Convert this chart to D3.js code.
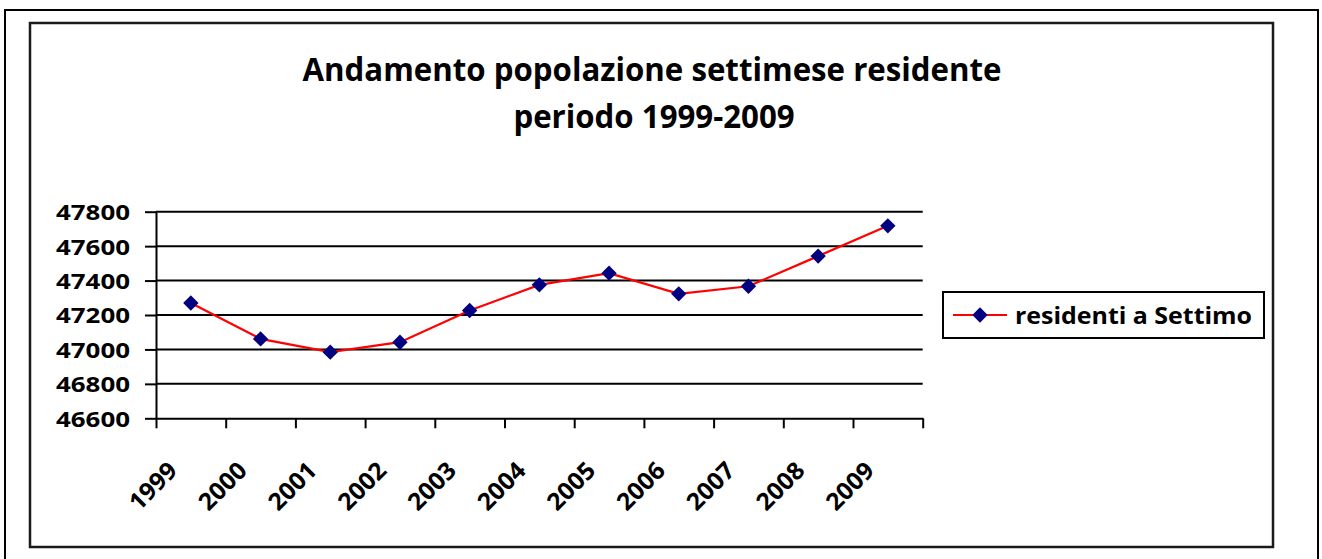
<!DOCTYPE html>
<html>
<head>
<meta charset="utf-8">
<script src="https://cdn.jsdelivr.net/npm/d3@7"></script>
<style>
  html, body { margin: 0; padding: 0; background: #fff; }
  svg { display: block; }
  text { font-family: 'Open Sans', 'Noto Sans', sans-serif; font-weight: bold; fill: #000; }
</style>
</head>
<body>
<svg id="chart" width="1322" height="559"></svg>
<script>
const years = ['1999', '2000', '2001', '2002', '2003', '2004', '2005', '2006', '2007', '2008', '2009'];
const residents = [47270, 47061, 46984, 47042, 47226, 47375, 47443, 47323, 47367, 47542, 47718];
const yTicks = [46600, 46800, 47000, 47200, 47400, 47600, 47800];
const titleLines = ['Andamento popolazione settimese residente', 'periodo 1999-2009'];
const seriesName = 'residenti a Settimo';

const svg = d3.select('#chart');

// frames
svg.append('rect').attr('x', 5).attr('y', 10).attr('width', 1313).attr('height', 560)
  .attr('fill', '#fff').attr('stroke', '#000').attr('stroke-width', 2);
svg.append('rect').attr('x', 30).attr('y', 23).attr('width', 1243).attr('height', 524)
  .attr('fill', '#fff').attr('stroke', '#1a1a1a').attr('stroke-width', 2.5);

// stretch text horizontally to a target width (the original image is widened)
function fitWidth(sel, w) {
  sel.attr('textLength', w).attr('lengthAdjust', 'spacingAndGlyphs');
}
function natural(sel) { return sel.node().getComputedTextLength(); }

// title
const t1 = svg.append('text').attr('x', 652).attr('y', 81).attr('text-anchor', 'middle')
  .attr('font-size', 32).text(titleLines[0]);
const t2 = svg.append('text').attr('x', 654).attr('y', 128).attr('text-anchor', 'middle')
  .attr('font-size', 32).text(titleLines[1]);
const titleStretch = 699 / natural(t1);
fitWidth(t2, natural(t2) * titleStretch);
fitWidth(t1, 699);

const plotL = 156, plotR = 922.7, plotT = 211.7, plotB = 418.3;
const x = d3.scaleBand(years, [plotL, plotR]);
const xEdge = d3.scaleLinear([0, years.length], [plotL, plotR]);
const y = d3.scaleLinear([46600, 47800], [plotB, plotT]);

// gridlines
svg.append('g').selectAll('line').data(yTicks.slice(1)).join('line')
  .attr('x1', plotL).attr('x2', plotR).attr('y1', (d) => y(d)).attr('y2', (d) => y(d))
  .attr('stroke', '#000').attr('stroke-width', 2);

// y axis
const yAxis = svg.append('g').attr('transform', `translate(${plotL},0)`)
  .call(d3.axisLeft(y).tickValues(yTicks).tickFormat(d3.format('d')).tickSize(11).tickPadding(15).tickSizeOuter(0));
yAxis.attr('font-family', null).attr('font-size', null);
yAxis.select('.domain').attr('stroke', '#000').attr('stroke-width', 2);
yAxis.selectAll('.tick line').attr('stroke', '#000').attr('stroke-width', 2);
yAxis.selectAll('.tick text').attr('font-size', 22).attr('dy', '0.36em');
const yStretch = 74 / natural(yAxis.select('.tick text'));
yAxis.selectAll('.tick text').each(function () {
  const s = d3.select(this);
  fitWidth(s, natural(s) * yStretch);
});

// x axis: ticks at category edges
const xAxis = svg.append('g').attr('transform', `translate(0,${plotB})`)
  .call(d3.axisBottom(xEdge).tickValues(d3.range(years.length + 1)).tickSize(10).tickSizeOuter(0).tickFormat(''));
xAxis.select('.domain').attr('stroke', '#000').attr('stroke-width', 2);
xAxis.selectAll('.tick line').attr('stroke', '#000').attr('stroke-width', 2);

// x labels rotated
const xl = svg.append('g').selectAll('text').data(years).join('text')
  .attr('font-size', 24).attr('text-anchor', 'end')
  .attr('transform', (d) => `translate(${x(d) + x.bandwidth() / 2 - 12},${472}) rotate(-45)`)
  .text((d) => d);
xl.each(function () {
  const s = d3.select(this);
  fitWidth(s, natural(s) * 1.03);
});

// series line
const line = d3.line().x((d, i) => x(years[i]) + x.bandwidth() / 2).y((d) => y(d));
svg.append('path').datum(residents).attr('d', line)
  .attr('fill', 'none').attr('stroke', '#ff0000').attr('stroke-width', 2.2);

const marker = d3.symbol(d3.symbolSquare, 118);
svg.append('g').selectAll('path').data(residents).join('path')
  .attr('d', marker)
  .attr('transform', (d, i) => `translate(${x(years[i]) + x.bandwidth() / 2},${y(d)}) rotate(45)`)
  .attr('fill', '#000080');

// legend
const lg = svg.append('g');
lg.append('rect').attr('x', 943).attr('y', 292).attr('width', 321).attr('height', 46)
  .attr('fill', '#fff').attr('stroke', '#000').attr('stroke-width', 2);
lg.append('line').attr('x1', 953).attr('x2', 1007).attr('y1', 315).attr('y2', 315)
  .attr('stroke', '#ff0000').attr('stroke-width', 2.2);
lg.append('path').attr('d', marker).attr('transform', 'translate(980,315) rotate(45)').attr('fill', '#000080');
const lt = lg.append('text').attr('x', 1015).attr('y', 324).attr('font-size', 24).text(seriesName);
fitWidth(lt, 237);
</script>
</body>
</html>
